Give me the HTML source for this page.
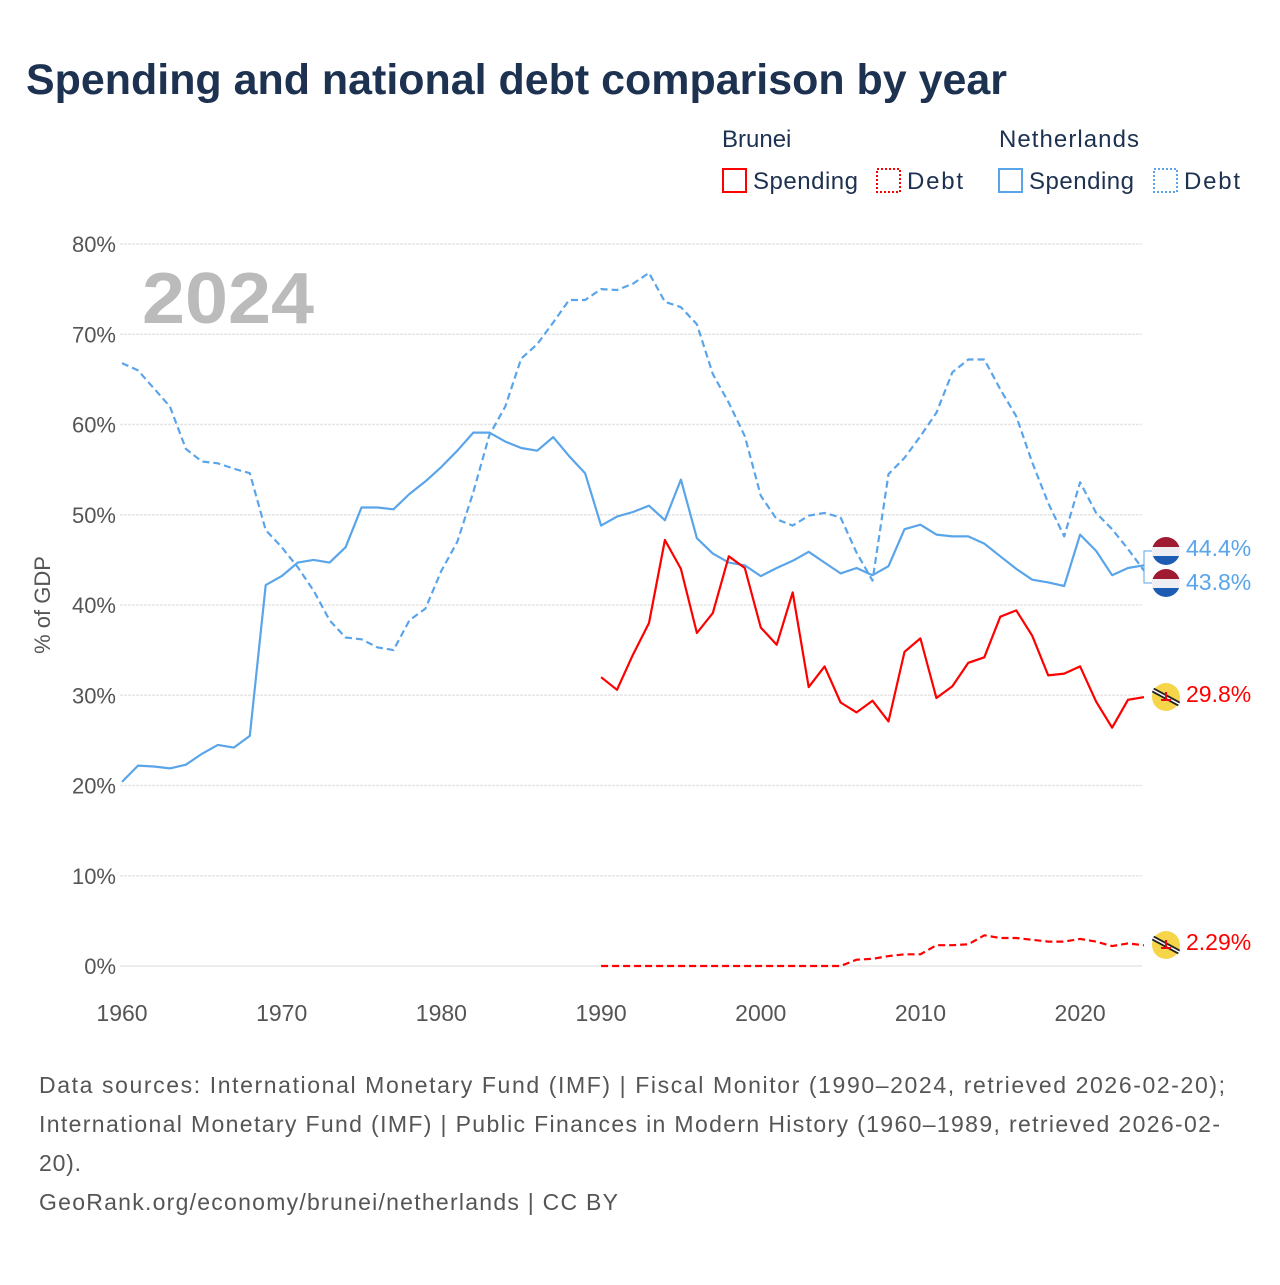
<!DOCTYPE html>
<html><head><meta charset="utf-8"><style>
body{margin:0;background:#fff;font-family:"Liberation Sans",sans-serif;}
svg text{font-family:"Liberation Sans",sans-serif;}
</style></head><body>
<svg id="c" width="1280" height="1280" xmlns="http://www.w3.org/2000/svg">
<text x="26" y="94" font-size="43" font-weight="bold" fill="#1d3150" textLength="981" lengthAdjust="spacingAndGlyphs">Spending and national debt comparison by year</text>
<g font-size="24" fill="#1d3150">
<text x="722" y="147">Brunei</text>
<text x="999" y="147" textLength="140">Netherlands</text>
<rect x="723" y="169" width="23" height="23" fill="none" stroke="#f00" stroke-width="2"/>
<text x="753" y="189" textLength="105">Spending</text>
<rect x="877" y="169" width="23" height="23" fill="none" stroke="#f00" stroke-width="2" stroke-dasharray="2 2"/>
<text x="907" y="189" textLength="56">Debt</text>
<rect x="999" y="169" width="23" height="23" fill="none" stroke="#5aa5ea" stroke-width="2"/>
<text x="1029" y="189" textLength="105">Spending</text>
<rect x="1154" y="169" width="23" height="23" fill="none" stroke="#5aa5ea" stroke-width="2" stroke-dasharray="2 2"/>
<text x="1184" y="189" textLength="56">Debt</text>
</g>
<text x="142" y="323" font-size="72" font-weight="bold" fill="#bbb" textLength="172" lengthAdjust="spacingAndGlyphs">2024</text>
<text transform="translate(50,605) rotate(-90)" text-anchor="middle" font-size="22" fill="#555">% of GDP</text>
<g id="grid"></g><g id="series"></g><g id="ends"></g>
<g font-size="23" fill="#555">
<text x="39" y="1093" textLength="1186">Data sources: International Monetary Fund (IMF) | Fiscal Monitor (1990–2024, retrieved 2026-02-20);</text>
<text x="39" y="1132" textLength="1181">International Monetary Fund (IMF) | Public Finances in Modern History (1960–1989, retrieved 2026-02-</text>
<text x="39" y="1171" textLength="42">20).</text>
<text x="39" y="1210" textLength="579">GeoRank.org/economy/brunei/netherlands | CC BY</text>
</g>
</svg>
<script>
const yTicks=[0,10,20,30,40,50,60,70,80];
const xTicks=[1960,1970,1980,1990,2000,2010,2020];
const nlYears=[];for(let y=1960;y<=2024;y++)nlYears.push(y);
const bnYears=[];for(let y=1990;y<=2024;y++)bnYears.push(y);
const nlSpending=[20.4,22.2,22.1,21.9,22.3,23.5,24.5,24.2,25.5,42.2,43.2,44.7,45.0,44.7,46.4,50.8,50.8,50.6,52.3,53.7,55.3,57.1,59.1,59.1,58.1,57.4,57.1,58.6,56.5,54.6,
48.8,49.8,50.3,51.0,49.4,53.9,47.4,45.7,44.7,44.4,43.2,44.1,44.9,45.9,44.7,43.5,44.1,43.3,44.3,48.4,48.9,47.8,47.6,47.6,46.8,45.4,44.0,42.8,42.5,42.1,47.8,46.0,43.3,44.1,44.4];
const nlDebt=[66.8,66.0,64.0,62.0,57.3,55.9,55.7,55.1,54.6,48.3,46.4,44.2,41.6,38.3,36.4,36.2,35.3,35.0,38.3,39.6,43.8,47.0,52.5,58.8,62.0,67.3,68.9,71.3,73.8,73.8,
75.0,74.9,75.6,76.8,73.6,73.0,71.1,65.6,62.4,58.7,52.1,49.5,48.8,49.9,50.2,49.7,45.8,42.7,54.5,56.3,58.7,61.3,65.8,67.2,67.2,63.9,60.9,55.8,51.3,47.6,53.6,50.2,48.4,46.2,43.8];
const bnSpending=[32.0,30.6,34.5,38.0,47.2,44.0,36.9,39.1,45.4,44.1,37.5,35.6,41.4,30.9,33.2,29.2,28.1,29.4,27.1,34.8,36.3,29.7,31.0,33.6,34.2,38.7,39.4,36.6,32.2,32.4,33.2,29.3,26.4,29.5,29.8];
const bnDebt=[0,0,0,0,0,0,0,0,0,0,0,0,0,0,0,0,0.7,0.8,1.1,1.3,1.3,2.3,2.3,2.4,3.4,3.1,3.1,2.9,2.7,2.7,3.0,2.7,2.2,2.5,2.29];
const NS="http://www.w3.org/2000/svg";
const X=y=>122+(y-1960)*(1144-122)/64;
const Y=v=>966-v*(966-244)/80;
function mk(t,a,p){const e=document.createElementNS(NS,t);for(const k in a)e.setAttribute(k,a[k]);p.appendChild(e);return e;}
const grid=document.getElementById('grid');
yTicks.forEach(v=>{
 const l=mk('line',{x1:120,x2:1142,y1:Y(v),y2:Y(v),stroke:'#e6e6e6','stroke-width':1.5,'stroke-dasharray':v===0?'':'3 1'},grid);
 
 
 const t=mk('text',{x:116,y:Y(v)+8,'text-anchor':'end','font-size':22,fill:'#555'},grid);t.textContent=v+'%';
 
 
});
xTicks.forEach(v=>{
 const t=mk('text',{x:X(v),y:1021,'text-anchor':'middle','font-size':23,fill:'#555'},grid);t.textContent=v;
 
 
});
const ser=document.getElementById('series');
function line(yrs,vals,col,dash,name){
 const d=vals.map((v,i)=>(i?'L':'M')+X(yrs[i]).toFixed(1)+','+Y(v).toFixed(1)).join('');
 const p=mk('path',{d:d,fill:'none',stroke:col,'stroke-width':2.2,'stroke-dasharray':dash,'stroke-linejoin':'round'},ser);
 
 
}
line(nlYears,nlDebt,'#5aa5ea','7 4','netherlands-debt-line');
line(nlYears,nlSpending,'#5aa5ea','','netherlands-spending-line');
line(bnYears,bnDebt,'#f00','7 4','brunei-debt-line');
line(bnYears,bnSpending,'#f00','','brunei-spending-line');
const ends=document.getElementById('ends');
function nlFlag(cy,name){
 const g=mk('g',{},ends);
 
 
 mk('clipPath',{id:'cp'+name},g);
 const c=document.getElementById('cp'+name);mk('circle',{cx:1166,cy:cy,r:14},c);
 const gg=mk('g',{'clip-path':'url(#cp'+name+')'},g);
 mk('rect',{x:1152,y:cy-14,width:28,height:10,fill:'#9e1b32'},gg);
 mk('rect',{x:1152,y:cy-4,width:28,height:9,fill:'#eceef2'},gg);
 mk('rect',{x:1152,y:cy+5,width:28,height:10,fill:'#1e5cb3'},gg);
}
function bnFlag(cy,name){
 const g=mk('g',{},ends);
 
 
 mk('circle',{cx:1166,cy:cy,r:14,fill:'#f7d54a'},g);
 mk('line',{x1:1153,y1:cy-7,x2:1179,y2:cy+7,stroke:'#222','stroke-width':5},g);
 mk('line',{x1:1153,y1:cy-7,x2:1179,y2:cy+7,stroke:'#fff','stroke-width':1.5},g);
 mk('path',{d:`M1161 ${cy+3}h10M1166 ${cy-5}v9`,stroke:'#e01','stroke-width':2},g);
}
function lab(y,txt,col,name){
 const t=mk('text',{x:1186,y:y+8,'font-size':23,fill:col},ends);t.textContent=txt;
 
 
}
mk('path',{d:'M1152 551h-8v32h8',fill:'none',stroke:'#5aa5ea','stroke-width':1},ends);
nlFlag(551,'netherlands-spending-flag');nlFlag(583,'netherlands-debt-flag');
bnFlag(697,'brunei-spending-flag');bnFlag(945,'brunei-debt-flag');
lab(548,nlSpending[nlSpending.length-1].toFixed(1)+'%','#5aa5ea','netherlands-spending-end-label');
lab(582,nlDebt[nlDebt.length-1].toFixed(1)+'%','#5aa5ea','netherlands-debt-end-label');
lab(694,bnSpending[bnSpending.length-1].toFixed(1)+'%','#f00','brunei-spending-end-label');
lab(942,bnDebt[bnDebt.length-1].toFixed(2)+'%','#f00','brunei-debt-end-label');
</script>
</body></html>
